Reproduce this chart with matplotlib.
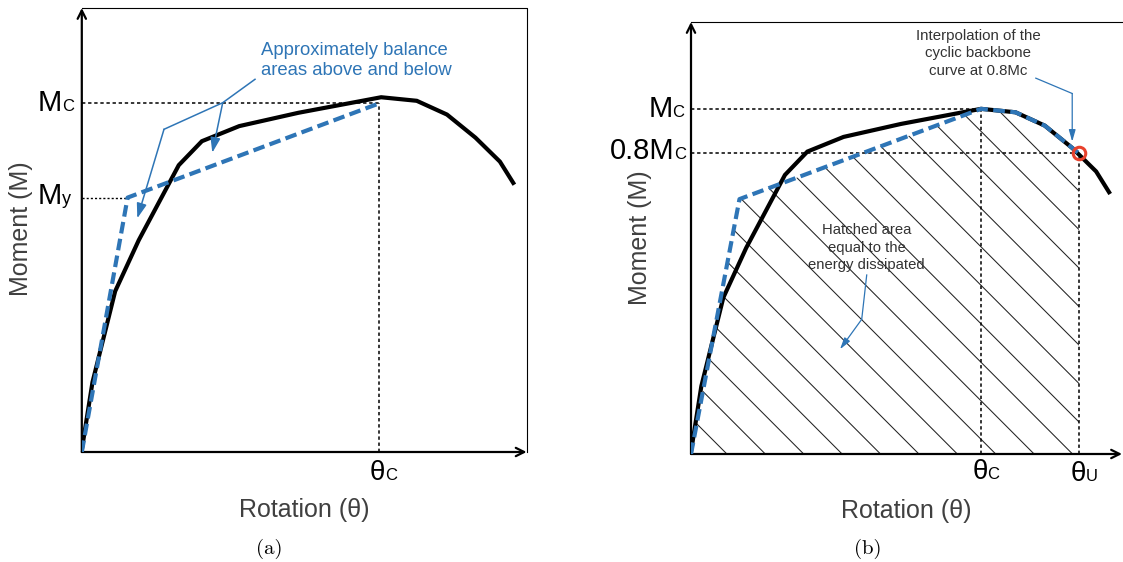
import matplotlib
matplotlib.use("Agg")
import matplotlib.pyplot as plt
from matplotlib.patches import Polygon
import numpy as np

plt.rcParams['font.family'] = ['Liberation Sans', 'DejaVu Sans']

# backbone curve (normalised rotation / moment, shared by both panels)
theta_curve = [0.0, 0.024, 0.075, 0.128, 0.218, 0.270, 0.354, 0.487,
               0.673, 0.753, 0.821, 0.885, 0.940, 0.970]
moment_curve = [0.005, 0.157, 0.362, 0.477, 0.646, 0.700, 0.734, 0.764,
                0.799, 0.791, 0.760, 0.708, 0.654, 0.606]

# (a) bilinear idealisation
theta_bil_a = [0.0, 0.103, 0.668]
moment_bil_a = [0.0, 0.573, 0.785]
Mc_a, My_a, thc_a = 0.785, 0.573, 0.668

# (b) idealisation following the backbone after the peak
theta_bil_b = [0.0, 0.1125, 0.673, 0.753, 0.821, 0.900]
moment_bil_b = [0.0, 0.590, 0.799, 0.791, 0.760, 0.696]
Mc_b, M08_b, thc_b, thu_b = 0.799, 0.696, 0.673, 0.900

BLUE = '#2e75b6'
GREY = '#404040'
DOT = (0, (2.2, 1.8))

fig = plt.figure(figsize=(11.23, 5.62), dpi=100)
ax_a = fig.add_axes([81.8 / 1123, 110 / 562, 444.8 / 1123, 444 / 562])
ax_b = fig.add_axes([691 / 1123, 108 / 562, 431 / 1123, 432 / 562])

for ax in (ax_a, ax_b):
    ax.set_xlim(0, 1)
    ax.set_ylim(0, 1)
    ax.axis('off')
    # axes arrows
    for tip in [(0, 1), (1, 0)]:
        ax.annotate('', xy=tip, xytext=(0, 0), annotation_clip=False,
                    arrowprops=dict(arrowstyle='->,head_length=0.6,head_width=0.3',
                                    lw=1.6, color='black', shrinkA=0, shrinkB=0))
    ax.text(0.5, -0.131, 'Rotation (\u03b8)', fontsize=18, color=GREY,
            ha='center', va='center')


def two_part(ax, x, y, big, small, bsize=21, ssize=12):
    ax.text(x, y, big, fontsize=bsize, ha='right', va='baseline', clip_on=False)
    ax.text(x, y, small, fontsize=ssize, ha='left', va='baseline', clip_on=False)


# ---------------- panel (a) ----------------
ax = ax_a
ax.plot([0, 1, 1], [1, 1, 0], color='black', lw=0.8, clip_on=False)
ax.plot([0, thc_a], [Mc_a, Mc_a], color='black', lw=1.1, ls=DOT)
ax.plot([thc_a, thc_a], [0, Mc_a], color='black', lw=1.1, ls=DOT)
ax.plot([0, theta_bil_a[1]], [My_a, My_a], color='black', lw=1.0, ls=(0, (1.5, 1.5)))
ax.plot(theta_curve, moment_curve, color='black', lw=3, zorder=3,
        solid_joinstyle='miter')
ax.plot(theta_bil_a, moment_bil_a, color=BLUE, lw=3, dashes=(2.8, 1.3), zorder=4)

two_part(ax, -0.0445, 0.7687, 'M', 'C')
two_part(ax, -0.0445, 0.5586, 'M', 'y', ssize=13)
two_part(ax, 0.6817, -0.0631, '\u03b8', 'C', bsize=20)
ax.text(-0.1356, 0.5023, 'Moment (M)', fontsize=18, color=GREY, rotation=90,
        ha='center', va='center')
ax.text(0.422, -0.2185, '(a)', fontsize=15, family='cmr10', ha='center', va='center')

ax.text(0.4029, 0.9225, 'Approximately balance\nareas above and below',
        fontsize=13.3, color=BLUE, ha='left', va='top', linespacing=1.2)
ax.plot([0.3894, 0.3168, 0.1848], [0.8394, 0.7867, 0.7268], color=BLUE, lw=1.1)
arr = dict(arrowstyle='-|>,head_length=0.9,head_width=0.3', lw=1.1, color=BLUE,
           shrinkA=0, shrinkB=0)
ax.annotate('', xy=(0.1248, 0.5264), xytext=(0.1848, 0.7268), arrowprops=arr)
ax.annotate('', xy=(0.2934, 0.6741), xytext=(0.3168, 0.7867), arrowprops=arr)

# ---------------- panel (b) ----------------
ax = ax_b
ax.plot([0, 1.01], [1, 1], color='black', lw=0.8, clip_on=False)

hatch_x = theta_bil_b + [thu_b, 0.0]
hatch_y = moment_bil_b + [0.0, 0.0]
region = Polygon(np.column_stack([hatch_x, hatch_y]), closed=True,
                 facecolor='none', edgecolor='none', transform=ax.transData)
ax.add_patch(region)
for c in np.arange(0.0833, 2.0, 0.0891):
    ln, = ax.plot([c - 1.2, c], [1.2, 0], color='#222222', lw=0.75, zorder=1)
    ln.set_clip_path(region)

ax.plot([0, thc_b], [Mc_b, Mc_b], color='black', lw=1.1, ls=DOT)
ax.plot([thc_b, thc_b], [0, Mc_b], color='black', lw=1.1, ls=DOT)
ax.plot([0, thu_b], [M08_b, M08_b], color='black', lw=1.1, ls=DOT)
ax.plot([thu_b, thu_b], [0, M08_b], color='black', lw=1.1, ls=DOT)
ax.plot(theta_curve, moment_curve, color='black', lw=3, zorder=3,
        solid_joinstyle='miter')
ax.plot(theta_bil_b, moment_bil_b, color=BLUE, lw=3, dashes=(2.8, 1.3), zorder=4)
ax.plot([thu_b], [M08_b], 'o', ms=9, mfc='none', mec='#e8412c', mew=2.2, zorder=5)

two_part(ax, -0.0432, 0.7808, 'M', 'C')
two_part(ax, -0.0383, 0.6829, '0.8M', 'C')
two_part(ax, 0.688, -0.0583, '\u03b8', 'C', bsize=20)
two_part(ax, 0.917, -0.0625, '\u03b8', 'U', bsize=20)
ax.text(-0.1183, 0.5007, 'Moment (M)', fontsize=18, color=GREY, rotation=90,
        ha='center', va='center')
ax.text(0.410, -0.2199, '(b)', fontsize=15, family='cmr10', ha='center', va='center')

ax.text(0.6666, 0.9845, 'Interpolation of the\ncyclic backbone\ncurve at 0.8Mc',
        fontsize=10.8, color='#333333', ha='center', va='top', linespacing=1.32,
        clip_on=False)
ax.text(0.4074, 0.534, 'Hatched area\nequal to the\nenergy dissipated',
        fontsize=10.7, color='#333333', ha='center', va='top', linespacing=1.32,
        zorder=6)
arr_b = dict(arrowstyle='-|>,head_length=0.7,head_width=0.2', lw=0.9, color=BLUE,
             shrinkA=0, shrinkB=0)
ax.plot([0.80, 0.8845], [0.87, 0.8345], color=BLUE, lw=0.9)
ax.annotate('', xy=(0.8845, 0.723), xytext=(0.8845, 0.8345), arrowprops=arr_b)
ax.plot([0.4077, 0.3961], [0.4144, 0.3118], color=BLUE, lw=0.9)
ax.annotate('', xy=(0.3457, 0.2424), xytext=(0.3961, 0.3118), arrowprops=arr_b)

fig.savefig('out.png', dpi=100)
